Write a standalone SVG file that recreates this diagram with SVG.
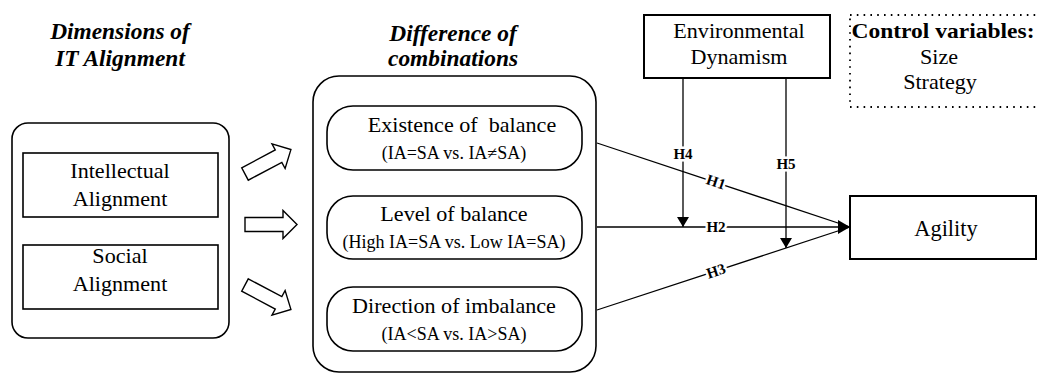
<svg xmlns="http://www.w3.org/2000/svg" width="1039" height="374" viewBox="0 0 1039 374" font-family="'Liberation Serif', serif">
<style>
  .hdr { font-family: "Liberation Serif", serif; font-size: 15px; font-weight: bold; font-style: italic; text-anchor: middle; fill: #000; }
  .lbl { font-family: "Liberation Serif", serif; font-size: 14px; text-anchor: middle; fill: #000; }
  .sub { font-family: "Liberation Serif", serif; font-size: 18px; text-anchor: middle; fill: #000; }
  .box { fill: #fff; stroke: #000; stroke-width: 1.6; }
  .rect2 { fill: #fff; stroke: #000; stroke-width: 2; }
  .conn { stroke: #000; stroke-width: 1.3; fill: none; }
  .hl { font-family: "Liberation Serif", serif; font-size: 15px; font-weight: bold; text-anchor: middle; fill: #000; stroke: #fff; stroke-width: 5; paint-order: stroke; stroke-linejoin: round; }
  .hollow { fill: #fff; stroke: #000; stroke-width: 1.4; stroke-linejoin: miter; }
</style>
<defs>
  <marker id="ah" viewBox="0 0 12 14" refX="12" refY="7" markerWidth="12" markerHeight="14" markerUnits="userSpaceOnUse" orient="auto">
    <path d="M0,0 L12,7 L0,14 Z" fill="#000"/>
  </marker>
  <marker id="ahs" viewBox="0 0 10 12" refX="10" refY="6" markerWidth="10" markerHeight="12" markerUnits="userSpaceOnUse" orient="auto">
    <path d="M0,0 L10,6 L0,12 Z" fill="#000"/>
  </marker>
  <path id="harrow" d="M0,-7 L38,-7 L38,-14 L52,0 L38,14 L38,7 L0,7 Z"/>
</defs>
<rect width="1039" height="374" fill="#fff"/>

<g id="headers">
  <text class="hdr" transform="translate(120,39) scale(1.56)">Dimensions of</text>
  <text class="hdr" transform="translate(120,66) scale(1.56)">IT Alignment</text>
  <text class="hdr" transform="translate(453,41) scale(1.56)">Difference of</text>
  <text class="hdr" transform="translate(453,66) scale(1.56)">combinations</text>
</g>

<g id="it-alignment">
  <rect class="box" x="12" y="123" width="217" height="215" rx="16"/>
  <g id="intellectual">
    <rect class="box" x="23" y="153" width="195" height="64"/>
    <text class="lbl" transform="translate(120,178) scale(1.58,1.45)">Intellectual</text>
    <text class="lbl" transform="translate(120,206) scale(1.58,1.45)">Alignment</text>
  </g>
  <g id="social">
    <rect class="box" x="23" y="245" width="195" height="64"/>
    <text class="lbl" transform="translate(120,263) scale(1.58,1.45)">Social</text>
    <text class="lbl" transform="translate(120,291) scale(1.58,1.45)">Alignment</text>
  </g>
</g>

<g id="hollow-arrows">
  <use href="#harrow" class="hollow" transform="translate(245,174) rotate(-28)"/>
  <use href="#harrow" class="hollow" transform="translate(245,224.5)"/>
  <use href="#harrow" class="hollow" transform="translate(245,285) rotate(28)"/>
</g>

<g id="combinations">
  <rect class="box" x="313" y="76" width="283" height="296" rx="26"/>
  <g id="existence">
    <rect class="box" x="327" y="106" width="255" height="64" rx="26"/>
    <text class="lbl" transform="translate(462,132) scale(1.58,1.45)" xml:space="preserve">Existence of  balance</text>
    <text class="sub" x="454" y="159">(IA=SA vs. IA≠SA)</text>
  </g>
  <g id="level">
    <rect class="box" x="327" y="196" width="255" height="63" rx="26"/>
    <text class="lbl" transform="translate(454,221) scale(1.58,1.45)">Level of balance</text>
    <text class="sub" x="454" y="248">(High IA=SA vs. Low IA=SA)</text>
  </g>
  <g id="direction">
    <rect class="box" x="327" y="287" width="255" height="64" rx="26"/>
    <text class="lbl" transform="translate(454,313) scale(1.58,1.45)">Direction of imbalance</text>
    <text class="sub" x="454" y="340">(IA&lt;SA vs. IA&gt;SA)</text>
  </g>
</g>

<g id="environmental-dynamism">
  <rect class="rect2" x="644" y="15" width="186" height="63"/>
  <text class="lbl" transform="translate(739,38) scale(1.58,1.45)">Environmental</text>
  <text class="lbl" transform="translate(739,64) scale(1.58,1.45)">Dynamism</text>
</g>

<g id="control-variables">
  <rect x="850" y="15" width="220" height="92" fill="none" stroke="#000" stroke-width="1.8" stroke-dasharray="1.6 5.2"/>
  <text class="lbl" transform="translate(943,38) scale(1.68,1.5)" font-weight="bold">Control variables:</text>
  <text class="lbl" transform="translate(939,64) scale(1.58,1.45)">Size</text>
  <text class="lbl" transform="translate(940,89) scale(1.58,1.45)">Strategy</text>
</g>

<g id="agility">
  <rect class="rect2" x="850" y="196" width="186" height="63"/>
  <text class="lbl" transform="translate(946,236) scale(1.6)">Agility</text>
</g>

<g id="connectors">
  <line class="conn" x1="597" y1="143" x2="850" y2="227"/>
  <line class="conn" x1="597" y1="227" x2="850" y2="227" marker-end="url(#ah)"/>
  <line class="conn" x1="597" y1="310" x2="850" y2="227"/>
  <line class="conn" x1="683" y1="78" x2="683" y2="227" marker-end="url(#ahs)"/>
  <line class="conn" x1="786" y1="78" x2="786" y2="248" marker-end="url(#ahs)"/>
  <text class="hl" x="683" y="159">H4</text>
  <text class="hl" x="786" y="169">H5</text>
  <text class="hl" transform="translate(716,182) rotate(18.4)" y="5">H1</text>
  <text class="hl" x="716" y="232">H2</text>
  <text class="hl" transform="translate(716,271) rotate(-18.2)" y="5">H3</text>
</g>
</svg>
